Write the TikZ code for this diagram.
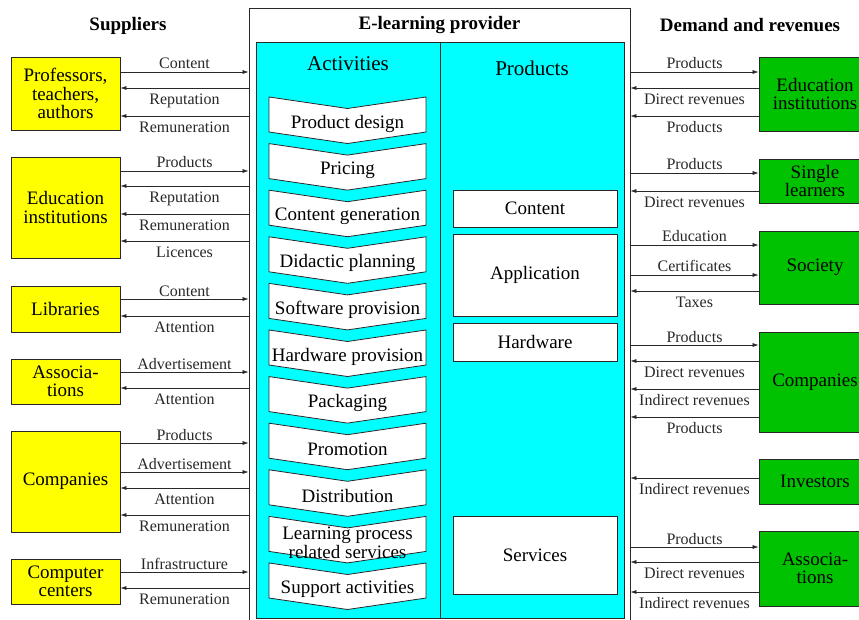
\documentclass[tikz,border=0pt]{standalone}
\usepackage{fontspec}
\setmainfont{Liberation Serif}
\usetikzlibrary{arrows.meta,positioning}

\definecolor{custgreen}{RGB}{0,194,0}
\definecolor{provcyan}{RGB}{0,255,255}
\definecolor{suppyellow}{RGB}{255,255,0}
\definecolor{linegray}{RGB}{40,40,40}

\tikzset{
  actor/.style={draw=linegray,line width=0.8pt,align=center,inner sep=0pt,
    font=\fontsize{19}{18.5}\selectfont},
  supplier/.style={actor,fill=suppyellow,minimum width=109pt},
  customer/.style={actor,fill=custgreen,minimum width=112pt},
  prodbox/.style={actor,fill=white,minimum width=164pt},
  heading/.style={font=\fontsize{21}{21}\selectfont},
  title/.style={font=\bfseries\fontsize{19}{19}\selectfont},
  flow/.style={-{Latex[length=6pt,width=4pt]},linegray,line width=0.6pt},
  labup/.style={anchor=base,yshift=3pt,inner sep=0pt,font=\fontsize{16}{16}\selectfont},
  labdn/.style={anchor=base,yshift=-16.5pt,inner sep=0pt,font=\fontsize{16}{16}\selectfont},
}

\begin{document}
\begin{tikzpicture}[x=1pt,y=-1pt]
\clip (0,0) rectangle (859,620);
\fill[white] (0,0) rectangle (859,620);

% provider frame and its two columns
\node[draw=linegray,line width=0.8pt,minimum width=381pt,minimum height=617pt] (prov) at (439.5,316.5) {};
\node[draw=linegray,fill=provcyan,line width=0.8pt,minimum width=368pt,minimum height=576pt] (core) at (440,330) {};
\draw[linegray,line width=0.8pt] (core.north) -- (core.south);

\node[title] (tprov) at (439.5,25.5) {E-learning provider};
\node[title] (tsup) at (128,25.5) {Suppliers};
\node[title] (tdem) at (750,25.5) {Demand and revenues};
\node[heading] (hact) at (348,64) {Activities};
\node[heading] (hprod) at (532,68) {Products};

% value chain of activities
\foreach \txt [count=\i from 0] in {Product design, Pricing, Content generation,
    Didactic planning, Software provision, Hardware provision, Packaging,
    Promotion, Distribution, {Learning process\\related services}, Support activities} {
  \pgfmathsetmacro\t{97+46.6*\i}
  \draw[linegray,line width=0.8pt,fill=white] (269,\t) -- (347.5,\t+11.5) -- (426,\t)
    -- (426,\t+35) -- (347.5,\t+46.5) -- (269,\t+35) -- cycle;
  \node[align=center,inner sep=0pt,font=\fontsize{19}{15}\selectfont] (act\i) at (347.5,\t+26.5) {\txt};
}

% products
\node[prodbox,minimum height=37pt] (pcont) at (535,208.5) {Content};
\node[prodbox,minimum height=82pt] (papp) at (535,275) {Application};
\node[prodbox,minimum height=38pt] (phw) at (535,342) {Hardware};
\node[prodbox,minimum height=78pt] (pserv) at (535,555) {Services};

% suppliers
\node[supplier,minimum height=73pt] (prof) at (65.5,93.5) {Professors,\\teachers,\\authors};
\node[supplier,minimum height=101pt] (eduS) at (65.5,207.5) {Education\\institutions};
\node[supplier,minimum height=46pt] (lib) at (65.5,309) {Libraries};
\node[supplier,minimum height=45pt] (assS) at (65.5,381.5) {Associa-\\tions};
\node[supplier,minimum height=101pt] (compS) at (65.5,481.5) {Companies};
\node[supplier,minimum height=45pt] (cc) at (65.5,581.5) {Computer\\centers};

% demand side
\node[customer,minimum height=74pt] (eduD) at (815,94) {Education\\institutions};
\node[customer,minimum height=44pt] (single) at (815,181) {Single\\learners};
\node[customer,minimum height=73pt] (soc) at (815,267.5) {Society};
\node[customer,minimum height=100pt] (compD) at (815,382) {Companies};
\node[customer,minimum height=45pt] (inv) at (815,481.5) {Investors};
\node[customer,minimum height=75pt] (assD) at (815,568.5) {Associa-\\tions};

% flows between suppliers and provider
\foreach \nd/\y/\lbl in {prof/72/Content, eduS/171/Products, lib/299/Content,
    assS/372/Advertisement, compS/443/Products, compS/472/Advertisement, cc/572/Infrastructure}
  \draw[flow] (\nd.east |- 0,\y) -- (prov.west |- 0,\y) node[midway,labup] {\lbl};
\foreach \nd/\y/\lbl in {prof/88/Reputation, prof/116/Remuneration, eduS/186/Reputation,
    eduS/214/Remuneration, eduS/241/Licences, lib/316/Attention, assS/388/Attention,
    compS/488/Attention, compS/515/Remuneration, cc/588/Remuneration}
  \draw[flow] (prov.west |- 0,\y) -- (\nd.east |- 0,\y) node[midway,labdn] {\lbl};

% flows between provider and demand side
\foreach \nd/\y/\lbl in {eduD/72/Products, single/173/Products, soc/245/Education,
    soc/275/Certificates, compD/345/Products, assD/547/Products}
  \draw[flow] (prov.east |- 0,\y) -- (\nd.west |- 0,\y) node[midway,labup] {\lbl};
\foreach \nd/\y/\lbl in {eduD/88/Direct revenues, eduD/116/Products, single/191/Direct revenues,
    soc/291/Taxes, compD/361/Direct revenues, compD/389/Indirect revenues, compD/417/Products,
    inv/478/Indirect revenues, assD/562/Direct revenues, assD/592/Indirect revenues}
  \draw[flow] (\nd.west |- 0,\y) -- (prov.east |- 0,\y) node[midway,labdn] {\lbl};
\end{tikzpicture}
\end{document}
